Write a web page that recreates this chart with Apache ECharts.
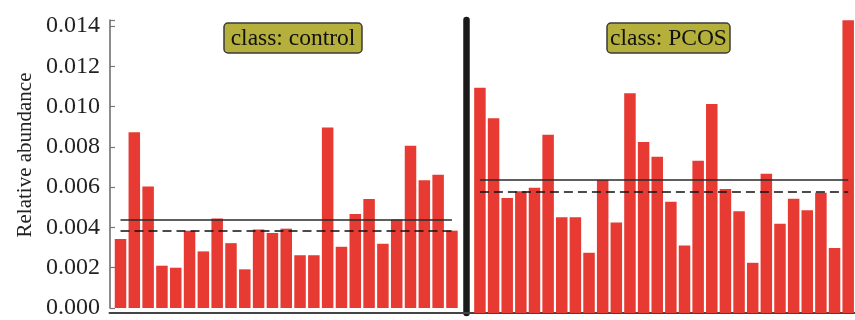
<!DOCTYPE html>
<html>
<head>
<meta charset="utf-8">
<script src="https://cdn.jsdelivr.net/npm/echarts@6/dist/echarts.min.js"></script>
<style>
  html, body { margin: 0; padding: 0; background: #ffffff; }
  #chart { width: 855px; height: 320px; }
</style>
</head>
<body>
<div id="chart"></div>
<script>
// Samples and relative abundance per class
const controlSamples = ['C1','C2','C3','C4','C5','C6','C7','C8','C9','C10','C11','C12','C13',
  'C14','C15','C16','C17','C18','C19','C20','C21','C22','C23','C24','C25'];
const controlValues = [0.00343, 0.00873, 0.00603, 0.00210, 0.00200, 0.00384, 0.00281, 0.00445,
  0.00322, 0.00192, 0.00390, 0.00372, 0.00394, 0.00262, 0.00262, 0.00896, 0.00304, 0.00467,
  0.00541, 0.00319, 0.00439, 0.00805, 0.00634, 0.00662, 0.00384];

const pcosSamples = ['P1','P2','P3','P4','P5','P6','P7','P8','P9','P10','P11','P12','P13','P14',
  'P15','P16','P17','P18','P19','P20','P21','P22','P23','P24','P25','P26','P27','P28'];
const pcosValues = [0.01099, 0.00951, 0.00561, 0.00594, 0.00611, 0.00870, 0.00467, 0.00467,
  0.00294, 0.00649, 0.00442, 0.01073, 0.00834, 0.00762, 0.00543, 0.00330, 0.00743, 0.01020,
  0.00605, 0.00496, 0.00245, 0.00680, 0.00436, 0.00558, 0.00501, 0.00587, 0.00317, 0.01429];

const yTickStep = 0.002;
const yMax = 0.0143;
const yAxisTitle = 'Relative abundance';
const panelTitles = ['class: control', 'class: PCOS'];

// Summary statistics drawn as horizontal reference lines
function mean(a) { return a.reduce((s, v) => s + v, 0) / a.length; }
function median(a) {
  const s = a.slice().sort((x, y) => x - y);
  const m = s.length >> 1;
  return s.length % 2 ? s[m] : (s[m - 1] + s[m]) / 2;
}

const FONT = "'Liberation Serif', 'DejaVu Serif', Tinos, serif";
const PITCH = 13.81;          // width of one category band
const TOP = 20, BASE = 313;   // plot top / baseline (px)
const LEFT_START = 113.6, RIGHT_START = 473.1;
const BAR_RED = '#e63a32';

function statLines(cats, vals) {
  const first = cats[0], last = cats[cats.length - 1];
  const m = mean(vals), md = median(vals);
  return {
    silent: true,
    symbol: ['none', 'none'],
    label: { show: false },
    emphasis: { disabled: true },
    data: [
      [{ coord: [first, m], lineStyle: { type: 'solid', color: '#2a2a2a', width: 1.5 } },
       { coord: [last, m] }],
      [{ coord: [first, md], lineStyle: { type: [9, 5], color: '#111111', width: 1.5 } },
       { coord: [last, md] }]
    ]
  };
}

function midTick(n) {
  const mid = Math.floor(n / 2);
  return {
    show: true, inside: true, length: 4, alignWithLabel: true,
    interval: function (i) { return i === mid; },
    lineStyle: { color: '#444', width: 1.5 }
  };
}

function titleBox(cx, w, text) {
  return {
    type: 'group',
    children: [
      { type: 'rect', shape: { x: cx - w / 2, y: 23, width: w, height: 30, r: 4 },
        style: { fill: '#b5b03b', stroke: '#3a3a3a', lineWidth: 1.5 } },
      { type: 'text', x: cx, y: 38.5,
        style: { text: text, fontFamily: FONT, fontSize: 23.5, fill: '#111', align: 'center', verticalAlign: 'middle' } }
    ]
  };
}

const chart = echarts.init(document.getElementById('chart'), null, { renderer: 'canvas' });
chart.setOption({
  animation: false,
  backgroundColor: '#ffffff',
  textStyle: { fontFamily: FONT },
  grid: [
    { left: LEFT_START, top: TOP, width: controlValues.length * PITCH, height: BASE - TOP },
    { left: RIGHT_START, top: TOP, width: pcosValues.length * PITCH, height: BASE - TOP },
    { left: 109.5, top: TOP, width: 855 - 109.5, height: BASE - TOP }
  ],
  xAxis: [
    { type: 'category', gridIndex: 0, data: controlSamples,
      axisLine: { show: false }, axisLabel: { show: false }, axisTick: midTick(controlSamples.length) },
    { type: 'category', gridIndex: 1, data: pcosSamples,
      axisLine: { show: false }, axisLabel: { show: false }, axisTick: midTick(pcosSamples.length) },
    { type: 'value', gridIndex: 2, min: 0, max: 1,
      axisLine: { show: true, lineStyle: { color: '#444', width: 2 } },
      axisTick: { show: false }, axisLabel: { show: false }, splitLine: { show: false } }
  ],
  yAxis: [
    { type: 'value', gridIndex: 0, min: 0, max: yMax, interval: yTickStep, offset: LEFT_START - 110,
      axisLine: { show: true, lineStyle: { color: '#666', width: 1.5 } },
      axisTick: { show: true, inside: true, length: 5, lineStyle: { color: '#777', width: 1.2 } },
      axisLabel: {
        show: true, margin: 10, fontFamily: FONT, fontSize: 24, color: '#222',
        formatter: function (v) { return v > 0.0141 ? '' : v.toFixed(3); }
      },
      splitLine: { show: false },
      name: yAxisTitle, nameLocation: 'middle', nameGap: 74,
      nameTextStyle: { fontFamily: FONT, fontSize: 21, color: '#222', padding: [0, 0, 0, 18] }
    },
    { type: 'value', gridIndex: 1, min: 0, max: yMax, interval: yTickStep, offset: RIGHT_START - 466,
      axisLine: { show: true, lineStyle: { color: '#1a1a1a', width: 6.5 } },
      axisTick: { show: false }, axisLabel: { show: false }, splitLine: { show: false } },
    { type: 'value', gridIndex: 2, show: false, min: 0, max: 1 }
  ],
  series: [
    { type: 'bar', name: 'control', xAxisIndex: 0, yAxisIndex: 0, data: controlValues,
      barWidth: 11.5, itemStyle: { color: BAR_RED }, emphasis: { disabled: true },
      markLine: statLines(controlSamples, controlValues) },
    { type: 'bar', name: 'PCOS', xAxisIndex: 1, yAxisIndex: 1, data: pcosValues,
      barWidth: 11.5, itemStyle: { color: BAR_RED }, emphasis: { disabled: true },
      markLine: statLines(pcosSamples, pcosValues) }
  ],
  graphic: [
    titleBox(293, 138, panelTitles[0]),
    titleBox(668.5, 123, panelTitles[1])
  ]
});
</script>
</body>
</html>
